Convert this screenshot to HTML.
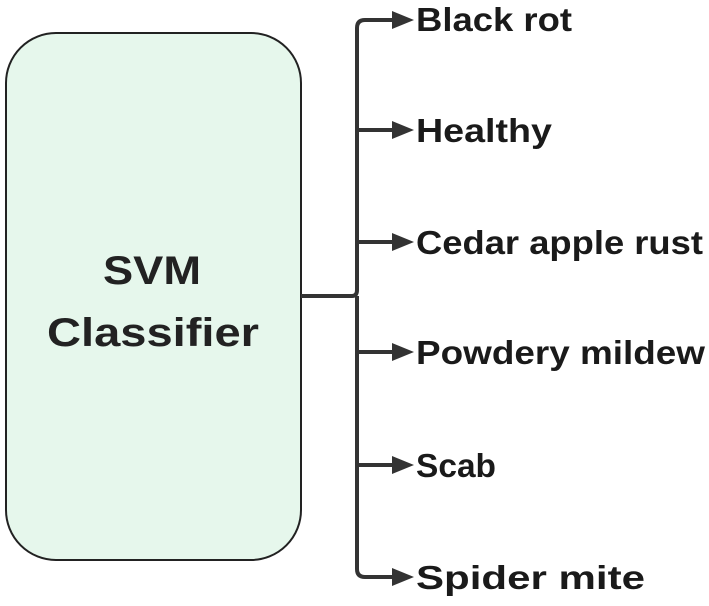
<!DOCTYPE html>
<html><head><style>
body{margin:0;width:709px;height:601px;background:#fff;overflow:hidden}
</style></head><body>
<svg width="709" height="601" xmlns="http://www.w3.org/2000/svg" font-family="Liberation Sans, sans-serif" font-weight="bold">
<rect x="6" y="33" width="295" height="527" rx="50" fill="#e6f7ec" stroke="#222" stroke-width="2"/>
<text x="103" y="284" font-size="40" fill="#222" textLength="98" lengthAdjust="spacingAndGlyphs">SVM</text>
<text x="47" y="346" font-size="40" fill="#222" textLength="212" lengthAdjust="spacingAndGlyphs">Classifier</text>
<g stroke="#333" stroke-width="4" fill="none">
<path d="M301 296 H352 Q357 296 357 290 V28 Q357 20 365 20 H395"/>
<path d="M357 296 V569 Q357 577 365 577 H395"/>
<path d="M357 130 H395 M357 242 H395 M357 352 H395 M357 465 H395"/>
</g>
<g fill="#333">
<polygon points="392,11 414,20 392,29"/>
<polygon points="392,121 414,130 392,139"/>
<polygon points="392,233 414,242 392,251"/>
<polygon points="392,343 414,352 392,361"/>
<polygon points="392,456 414,465 392,474"/>
<polygon points="392,568 414,577 392,586"/>
</g>
<g font-size="33" fill="#1a1a1a" lengthAdjust="spacingAndGlyphs">
<text x="416" y="31" textLength="156" lengthAdjust="spacingAndGlyphs">Black rot</text>
<text x="416" y="142" textLength="136" lengthAdjust="spacingAndGlyphs">Healthy</text>
<text x="416" y="254" textLength="287" lengthAdjust="spacingAndGlyphs">Cedar apple rust</text>
<text x="416" y="364" textLength="289" lengthAdjust="spacingAndGlyphs">Powdery mildew</text>
<text x="416" y="477" textLength="80" lengthAdjust="spacingAndGlyphs">Scab</text>
<text x="416" y="589" textLength="229" lengthAdjust="spacingAndGlyphs">Spider mite</text>
</g>
</svg>
</body></html>
